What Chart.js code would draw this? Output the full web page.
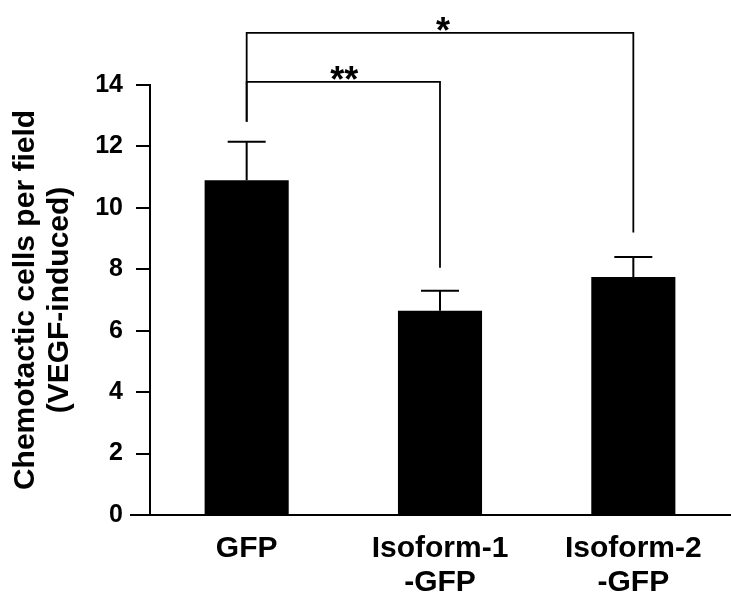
<!DOCTYPE html>
<html>
<head>
<meta charset="utf-8">
<script src="https://cdn.jsdelivr.net/npm/chart.js@4"></script>
<style>
  html, body { margin: 0; padding: 0; background: #fff; }
  #wrap { width: 731px; height: 598px; }
</style>
</head>
<body>
<div id="wrap"><canvas id="chemoChart"></canvas></div>
<script>
// values
const categories = [["GFP"], ["Isoform-1", "-GFP"], ["Isoform-2", "-GFP"]];
const means = [10.9, 6.65, 7.75];
const errors = [1.25, 0.65, 0.65];
const yTicks = [0, 2, 4, 6, 8, 10, 12, 14];

// significance brackets: from/to bar index, bracket level, drop ends, label
const bracketFrom = [0, 0];
const bracketTo = [1, 2];
const bracketLevel = [14.1, 15.7];
const bracketDropFrom = [12.8, 12.8];
const bracketDropTo = [8.05, 9.2];
const bracketLabels = ["**", "*"];

const FONT = "'Liberation Sans', Arial, sans-serif";

// Plugin drawing error bars, brackets and the x-axis stub
const extrasPlugin = {
    id: "extras",
    afterDatasetsDraw(chart) {
        const ctx = chart.ctx;
        const x = chart.scales.x;
        const y = chart.scales.y;
        ctx.save();
        ctx.strokeStyle = "#000";
        ctx.lineWidth = 2;

        // x-axis extends left of y-axis
        ctx.beginPath();
        ctx.moveTo(130, y.getPixelForValue(0));
        ctx.lineTo(chart.chartArea.left, y.getPixelForValue(0));
        ctx.stroke();

        // error bars (upper only)
        means.forEach((m, i) => {
            const cx = x.getPixelForValue(i);
            const top = y.getPixelForValue(m + errors[i]);
            ctx.beginPath();
            ctx.moveTo(cx, y.getPixelForValue(m));
            ctx.lineTo(cx, top);
            ctx.moveTo(cx - 19, top);
            ctx.lineTo(cx + 19, top);
            ctx.stroke();
        });

        // brackets
        ctx.fillStyle = "#000";
        ctx.font = "bold 36px " + FONT;
        ctx.textAlign = "center";
        ctx.textBaseline = "alphabetic";
        bracketLevel.forEach((lvl, k) => {
            const x1 = x.getPixelForValue(bracketFrom[k]);
            const x2 = x.getPixelForValue(bracketTo[k]);
            const yl = y.getPixelForValue(lvl);
            ctx.lineWidth = 1.8;
            ctx.beginPath();
            ctx.moveTo(x1, y.getPixelForValue(bracketDropFrom[k]));
            ctx.lineTo(x1, yl);
            ctx.lineTo(x2, yl);
            ctx.lineTo(x2, y.getPixelForValue(bracketDropTo[k]));
            ctx.stroke();
            ctx.fillText(bracketLabels[k], (x1 + x2) / 2 + (k === 0 ? 1 : 3), yl + 10);
        });
        ctx.restore();
    }
};

new Chart(document.getElementById("chemoChart").getContext("2d"), {
    type: "bar",
    data: {
        labels: categories,
        datasets: [{
            data: means,
            backgroundColor: "#000",
            borderWidth: 0,
            categoryPercentage: 1,
            barPercentage: 0.435
        }]
    },
    options: {
        responsive: true,
        maintainAspectRatio: false,
        animation: false,
        layout: { padding: { top: 85, right: 1, left: 0, bottom: 0 } },
        plugins: {
            legend: { display: false },
            tooltip: { enabled: false }
        },
        scales: {
            x: {
                grid: { display: false, drawTicks: false },
                border: { display: true, color: "#000", width: 2 },
                ticks: {
                    color: "#000",
                    padding: 16,
                    font: { family: FONT, size: 30, weight: "bold", lineHeight: 1.15 }
                },
                afterFit(s) { s.height = 83; }
            },
            y: {
                min: 0,
                max: 14,
                afterBuildTicks(s) { s.ticks = yTicks.map(v => ({ value: v })); },
                grid: { drawOnChartArea: false, drawTicks: true, tickLength: 14, color: "#000", lineWidth: 2 },
                border: { display: true, color: "#000", width: 2 },
                ticks: {
                    color: "#000",
                    padding: 13,
                    font: { family: FONT, size: 25, weight: "bold" }
                },
                title: {
                    display: true,
                    text: ["Chemotactic cells per field", "(VEGF-induced)"],
                    color: "#000",
                    padding: { top: 8, bottom: 0 },
                    font: { family: FONT, size: 30, weight: "bold", lineHeight: 1.15 }
                },
                afterFit(s) { s.width = 150; }
            }
        }
    },
    plugins: [extrasPlugin]
});
</script>
</body>
</html>
